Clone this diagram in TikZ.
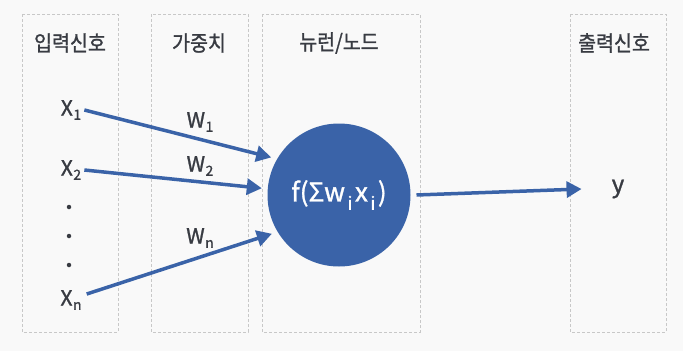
\documentclass[tikz,border=0pt]{standalone}
\usepackage{fontspec}
\setmainfont{Noto Sans CJK KR}[FakeBold=1.2]
\usetikzlibrary{arrows.meta}
\definecolor{bgc}{HTML}{F9F9F9}
\definecolor{boxc}{HTML}{C8C8C8}
\definecolor{txtc}{HTML}{383B42}
\definecolor{neuc}{HTML}{3A63A8}
\newcommand{\mysub}[1]{\kern0.5pt\raisebox{-0.2em}{\fontsize{14}{14}\selectfont #1}}
\newcommand{\isub}{\kern2.5pt\raisebox{-0.32em}{\fontsize{18}{18}\selectfont i}\kern2.5pt}
\begin{document}
\begin{tikzpicture}[x=1pt,y=-1pt,
  colbox/.style={draw=boxc,line width=0.8pt,dash pattern=on 3pt off 2pt},
  header/.style={text=txtc,font=\fontsize{19.5}{22}\selectfont,inner sep=1pt},
  lab/.style={text=txtc,font=\fontsize{21}{24}\selectfont,inner sep=1pt},
  dotn/.style={circle,fill=txtc,inner sep=0pt,minimum size=4.5pt},
  conn/.style={draw=neuc,line width=3.5pt,-{Triangle[length=15pt,width=16pt]}},
]
\useasboundingbox[fill=bgc] (0,0) rectangle (683,351);
\draw[colbox] (22,14) rectangle (118,332);
\draw[colbox] (151,14) rectangle (248,332);
\draw[colbox] (262,14) rectangle (420,332);
\draw[colbox] (570,14) rectangle (666,332);
\node[header] (h1) at (70,43) {\scalebox{1}[1.1]{입력신호}};
\node[header] (h2) at (199,43) {\scalebox{1}[1.1]{가중치}};
\node[header] (h3) at (339,43) {\scalebox{1}[1.1]{뉴런/노드}};
\node[header] (h4) at (614,43) {\scalebox{1}[1.1]{출력신호}};
\node[lab] (x1) at (71,110) {X\mysub{1}};
\node[lab] (x2) at (71,170) {X\mysub{2}};
\node[lab] (xn) at (71,300) {X\mysub{n}};
\node[dotn] (d1) at (69,207) {};
\node[dotn] (d2) at (69,236) {};
\node[dotn] (d3) at (69,265) {};
\node[lab] (w1) at (200,122) {W\mysub{1}};
\node[lab] (w2) at (200,166) {W\mysub{2}};
\node[lab] (wn) at (200,238) {W\mysub{n}};
\node[circle,fill=neuc,minimum size=143pt,inner sep=0pt,outer sep=6pt,text=white,
  font=\fontsize{26}{28}\selectfont] (neu) at (339,195) {f(Σw\isub x\isub)};
\node[lab,font=\fontsize{24}{26}\selectfont] (y) at (618,189) {y};
\draw[conn] ([xshift=2pt,yshift=0pt]x1.east) -- (neu.151);
\draw[conn] ([xshift=2pt]x2.east) -- (neu.175);
\draw[conn] ([xshift=4pt,yshift=6pt]xn.east) -- (neu.210);
\draw[conn] (neu.0) -- ([xshift=-29pt]y.west);
\end{tikzpicture}
\end{document}
